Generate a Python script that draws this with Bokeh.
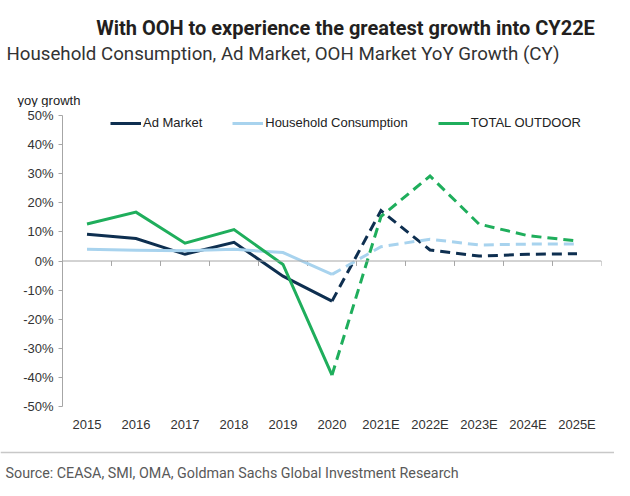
from bokeh.plotting import figure
from bokeh.layouts import column
from bokeh.models import (Legend, LegendItem, FixedTicker, PrintfTickFormatter,
                          Span, ColumnDataSource, FactorRange, Range1d)
from bokeh.core.properties import value
from bokeh.transform import dodge
from bokeh.embed import file_html
from bokeh.resources import INLINE

# ---------------- data ----------------
years = ["2015", "2016", "2017", "2018", "2019", "2020",
         "2021E", "2022E", "2023E", "2024E", "2025E"]
ad_market = [9.2, 7.7, 2.3, 6.4, -5.2, -13.8, 17.3, 3.8, 1.7, 2.3, 2.5]
household = [4.0, 3.7, 3.5, 4.0, 2.9, -4.6, 4.9, 7.5, 5.5, 5.8, 5.8]
total_outdoor = [12.7, 16.8, 6.1, 10.8, -1.2, -39.2, 15.3, 29.2, 12.7, 8.7, 6.9]
y_ticks = [-50, -40, -30, -20, -10, 0, 10, 20, 30, 40, 50]
last_actual = "2020"

title_text = "With OOH to experience the greatest growth into CY22E"
subtitle_text = "Household Consumption, Ad Market, OOH Market YoY Growth (CY)"
yaxis_title = "yoy growth"
source_text = "Source: CEASA, SMI, OMA, Goldman Sachs Global Investment Research"

series = [
    ("Ad Market", ad_market, "#0e2f50"),
    ("Household Consumption", household, "#a8d3ee"),
    ("TOTAL OUTDOOR", total_outdoor, "#1fae5c"),
]

HEAD_FONT = "Roboto"
SANS = "Liberation Sans"
AXIS_GRAY = "#a6a6a6"
W = 614


def blank(height):
    f = figure(width=W, height=height, x_range=Range1d(0, W), y_range=Range1d(height, 0),
               output_backend="svg", toolbar_location=None, min_border=0,
               x_axis_type=None, y_axis_type=None, frame_align=False)
    f.xgrid.visible = False
    f.ygrid.visible = False
    f.outline_line_color = None
    return f


# ---------------- header ----------------
head = blank(107)
head.text(x=[345], y=[27], text=[title_text], text_font=value(HEAD_FONT),
          text_font_style="bold", text_font_size="20px", text_align="center",
          text_baseline="alphabetic", text_color="#231f20")
head.text(x=[6], y=[53], text=[subtitle_text], text_font=value(HEAD_FONT),
          text_font_size="18.7px", text_align="left", text_baseline="alphabetic",
          text_color="#333333")
head.text(x=[17], y=[100], text=[yaxis_title], text_font=value(SANS),
          text_font_size="13px", text_align="left", text_baseline="alphabetic",
          text_color="#222222")

# ---------------- main chart ----------------
p = figure(x_range=FactorRange(*years), y_range=Range1d(-50, 50),
           width=W, height=333, output_backend="svg", toolbar_location=None,
           min_border_left=62, min_border_right=13, min_border_top=8,
           min_border_bottom=34, frame_align=False)
p.xgrid.visible = False
p.ygrid.visible = False
p.outline_line_color = None

p.yaxis.ticker = FixedTicker(ticks=y_ticks)
p.yaxis.formatter = PrintfTickFormatter(format="%d%%")
p.yaxis.axis_line_color = AXIS_GRAY
p.yaxis.major_tick_line_color = AXIS_GRAY
p.yaxis.major_tick_in = 0
p.yaxis.major_tick_out = 4
p.yaxis.minor_tick_line_color = None
p.yaxis.major_label_standoff = 5
p.yaxis.major_label_text_font = SANS
p.yaxis.major_label_text_font_size = "13px"
p.yaxis.major_label_text_color = "#333333"

p.xaxis.axis_line_color = None
p.xaxis.major_tick_line_color = None
p.xaxis.major_tick_out = 0
p.xaxis.major_tick_in = 0
p.xaxis.major_label_standoff = 10
p.xaxis.major_label_text_font = SANS
p.xaxis.major_label_text_font_size = "13px"
p.xaxis.major_label_text_color = "#333333"

p.add_layout(Span(location=0, dimension="width", line_color=AXIS_GRAY, line_width=1))
tick_src = ColumnDataSource(dict(years=years))
p.segment(x0=dodge("years", 0.5, range=p.x_range), y0=0,
          x1=dodge("years", 0.5, range=p.x_range), y1=-1.7,
          source=tick_src, line_color=AXIS_GRAY, line_width=1)

split = years.index(last_actual)
items = []
for name, vals, color in series:
    solid = p.line(years[:split + 1], vals[:split + 1], line_color=color,
                   line_width=3, line_join="miter")
    p.line(years[split:], vals[split:], line_color=color, line_width=3,
           line_dash="10 6", line_join="miter")
    items.append(LegendItem(label=name, renderers=[solid]))

legend = Legend(items=items, location=(48, 276), orientation="horizontal",
                padding=0, margin=0, spacing=30, glyph_width=31, glyph_height=14,
                label_height=14, label_standoff=2, border_line_color=None,
                background_fill_alpha=0, label_text_font=SANS,
                label_text_font_size="13px", label_text_color="#222222")
p.add_layout(legend)

# ---------------- footer ----------------
foot = blank(40)
foot.add_layout(Span(location=12, dimension="width", line_color="#c8c8c8", line_width=1.5))
foot.text(x=[5], y=[32], text=[source_text], text_font=value(HEAD_FONT),
          text_font_size="14.3px", text_align="left", text_baseline="alphabetic",
          text_color="#595959")

layout = column(head, p, foot, spacing=0)
open("out.html", "w").write(file_html(layout, INLINE))
